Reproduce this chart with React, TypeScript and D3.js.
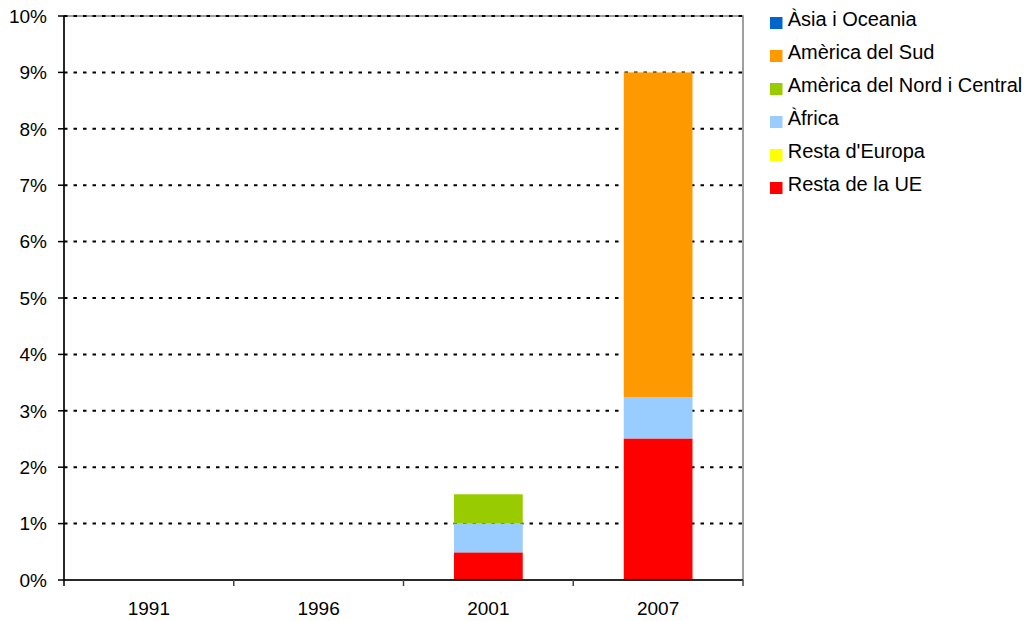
import React from "react";
import * as d3 from "d3";

const years = ["1991", "1996", "2001", "2007"];
const seriesNames = [
  "Resta de la UE",
  "Resta d'Europa",
  "Àfrica",
  "Amèrica del Nord i Central",
  "Amèrica del Sud",
  "Àsia i Oceania",
];
const seriesColors = ["#FF0000", "#FFFF00", "#99CCFF", "#99CC00", "#FF9900", "#0066CC"];
// values in percent, per year (order matches seriesNames)
const restaUE = [0, 0, 0.49, 2.51];
const restaEuropa = [0, 0, 0, 0];
const africa = [0, 0, 0.51, 0.73];
const americaNord = [0, 0, 0.52, 0];
const americaSud = [0, 0, 0, 5.76];
const asia = [0, 0, 0, 0];
const yTicks = [0, 1, 2, 3, 4, 5, 6, 7, 8, 9, 10];

const seriesValues = [restaUE, restaEuropa, africa, americaNord, americaSud, asia];

export default function App() {
  const W = 1027, H = 621;
  const left = 64, right = 743, top = 16, bottom = 580;
  const x = d3.scaleBand<string>().domain(years).range([left, right]).paddingInner(0).paddingOuter(0);
  const y = d3.scaleLinear().domain([0, 10]).range([bottom, top]);

  const rows = years.map((yr, i) => {
    const r: any = { year: yr };
    seriesNames.forEach((s, j) => (r[s] = seriesValues[j][i]));
    return r;
  });
  const stacked = d3.stack<any>().keys(seriesNames)(rows);
  const bw = x.bandwidth() * 0.405;
  const font = "'Liberation Sans', Arial, sans-serif";
  const legendOrder = [...seriesNames].reverse();
  const legendColors = [...seriesColors].reverse();

  return (
    <svg width={W} height={H} style={{ position: "absolute", left: 0, top: 0, background: "#fff" }} fontFamily={font}>
      {/* plot area border */}
      <rect x={left} y={top} width={right - left} height={bottom - top} fill="none" stroke="#808080" strokeWidth={1.5} />
      {/* grid lines */}
      {yTicks.filter((t) => t > 0).map((t) => (
        <line key={t} x1={left} x2={right} y1={y(t)} y2={y(t)} stroke="#000" strokeWidth={2} strokeDasharray="3.5,6" />
      ))}
      {/* bars */}
      {stacked.map((layer, j) =>
        layer.map((d, i) =>
          d[1] - d[0] > 0 ? (
            <rect
              key={`${j}-${i}`}
              x={x(years[i])! + (x.bandwidth() - bw) / 2}
              y={y(d[1])}
              width={bw}
              height={y(d[0]) - y(d[1])}
              fill={seriesColors[j]}
            />
          ) : null
        )
      )}
      {/* y axis */}
      <line x1={left} x2={left} y1={top} y2={bottom + 6} stroke="#000" strokeWidth={1.5} />
      {yTicks.map((t) => (
        <g key={t}>
          <line x1={left - 6} x2={left} y1={y(t)} y2={y(t)} stroke="#000" strokeWidth={1.5} />
          <text x={left - 17} y={y(t)} dy="0.36em" textAnchor="end" fontSize={19} fill="#000">
            {t}%
          </text>
        </g>
      ))}
      {/* x axis */}
      <line x1={left} x2={right} y1={bottom} y2={bottom} stroke="#000" strokeWidth={1.5} />
      {years.map((yr, i) => (
        <g key={yr}>
          <line x1={x(yr)! + x.bandwidth()} x2={x(yr)! + x.bandwidth()} y1={bottom} y2={bottom + 6} stroke="#444" strokeWidth={1.5} />
          <text x={x(yr)! + x.bandwidth() / 2} y={bottom + 34.5} textAnchor="middle" fontSize={19} fill="#000">
            {yr}
          </text>
        </g>
      ))}
      {/* legend */}
      {legendOrder.map((name, k) => (
        <g key={name} transform={`translate(770, ${25.5 + k * 33})`}>
          <rect x={0} y={-8.5} width={12.5} height={12} fill={legendColors[k]} />
          <text x={17.7} y={0} fontSize={20} fill="#000">
            {name}
          </text>
        </g>
      ))}
    </svg>
  );
}
